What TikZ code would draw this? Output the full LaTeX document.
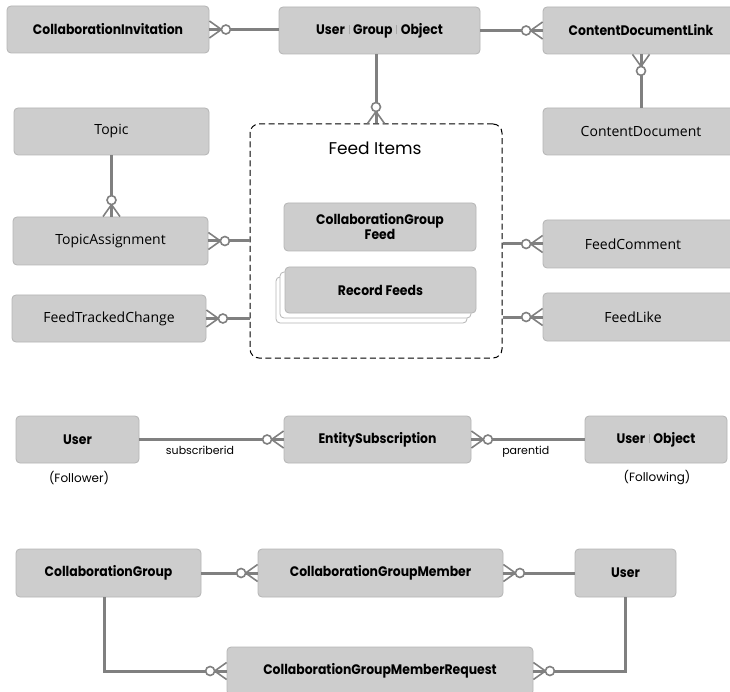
\documentclass[tikz,border=0pt]{standalone}
\usepackage{fontspec}
\setmainfont{Poppins}
\newfontfamily\geo[FakeStretch=0.9]{Poppins}
\newfontfamily\hum{Open Sans}
\usetikzlibrary{calc}
\definecolor{boxfill}{HTML}{CDCDCD}
\definecolor{boxline}{HTML}{B4B4B4}
\definecolor{conncol}{HTML}{808080}
\definecolor{sepcol}{HTML}{A8A8A8}
\newcommand\sepbar{\hspace{0.28em}\textcolor{sepcol}{\rule[-0.02em]{0.5pt}{0.72em}}\hspace{0.28em}}
\newcommand\zm[2]{\begin{scope}[shift={#1},rotate=#2]
  \draw[foot] (0,8.5) -- (12,0) -- (0,-8.5);
  \draw[foot,fill=white] (16.5,0) circle (4.5);
\end{scope}}
\tikzset{
  ent/.style={draw=boxline, line width=0.8pt, fill=boxfill, rounded corners=4pt,
    inner sep=0pt, align=center, font=\geo\bfseries\fontsize{13.8}{15}\selectfont},
  entr/.style={ent, font=\hum\fontsize{14}{16}\selectfont},
  shadowbox/.style={draw=boxline, line width=0.8pt, fill=white, rounded corners=4pt,
    inner sep=0pt, minimum width=191pt, minimum height=46pt},
  conn/.style={draw=conncol, line width=3pt},
  foot/.style={draw=conncol, line width=1.6pt},
  note/.style={inner sep=0pt, font=\fontsize{11}{13}\selectfont},
  feedframe/.style={draw=black, dash pattern=on 6pt off 3.5pt, line width=1pt, rounded corners=9pt, inner sep=0pt},
}
\begin{document}
\begin{tikzpicture}[x=1pt,y=-1pt]
\useasboundingbox (0,0) rectangle (730,692);
\clip (0,0) rectangle (730,692);

% top row
\node[ent, minimum width=202pt, minimum height=47pt] (ci) at (108,29.5) {CollaborationInvitation};
\node[ent, minimum width=201pt, minimum height=47pt] (ugo) at (379.5,30.5) {User\sepbar Group\sepbar Object};
\node[ent, minimum width=196pt, minimum height=47pt] (cdl) at (641,30.5) {ContentDocumentLink};
\node[entr, minimum width=196pt, minimum height=47pt] (cd) at (641,131.5) {ContentDocument};

% left column
\node[entr, minimum width=195pt, minimum height=47pt] (topic) at (111.5,131.5) {Topic};
\node[entr, minimum width=195pt, minimum height=48pt] (ta) at (110.5,241) {TopicAssignment};
\node[entr, minimum width=194pt, minimum height=47pt] (ftc) at (109,318.5) {FeedTrackedChange};

% feed items frame
\node[feedframe, minimum width=252pt, minimum height=234pt] (feed) at (376,241) {};
\node[inner sep=0pt, font=\fontsize{17}{19}\selectfont] (feedtitle) at (375,148) {Feed Items};
\node[ent, minimum width=192pt, minimum height=48pt] (cgf) at (380,227) {CollaborationGroup\\Feed};
\node[shadowbox] (rf2) at (371.5,300) {};
\node[shadowbox] (rf1) at (375.5,295) {};
\node[ent, minimum width=191pt, minimum height=46pt] (rf) at (380.5,290) {Record Feeds};

% right column
\node[entr, minimum width=196pt, minimum height=48pt] (fc) at (641,244) {FeedComment\hspace*{16pt}};
\node[entr, minimum width=196pt, minimum height=48pt] (fl) at (641,317) {FeedLike\hspace*{16pt}};

% subscription row
\node[ent, minimum width=123pt, minimum height=47pt] (uf) at (77.5,439.5) {User};
\node[ent, minimum width=187pt, minimum height=47pt] (es) at (377.5,439.5) {EntitySubscription};
\node[ent, minimum width=142pt, minimum height=47pt] (uo) at (656,439.5) {User\sepbar Object};
\node[note, font=\fontsize{12}{14}\selectfont] (follower) at (79,478) {(Follower)};
\node[note, font=\fontsize{12}{14}\selectfont] (following) at (657,478) {(Following)};

% group row
\node[ent, minimum width=185pt, minimum height=48pt] (cg) at (108.5,573) {CollaborationGroup};
\node[ent, minimum width=245pt, minimum height=48pt] (cgm) at (380.5,573) {CollaborationGroupMember};
\node[ent, minimum width=101pt, minimum height=48pt] (ub) at (625.5,573) {User};
\node[ent, minimum width=306pt, minimum height=48pt] (cgmr) at (380,671) {CollaborationGroupMemberRequest};

% connectors
\draw[conn] (ci.east) -- (ci.east -| ugo.west);
\zm{(ci.east)}{0}
\draw[conn] (ugo.east) -- (ugo.east -| cdl.west);
\zm{(ugo.east -| cdl.west)}{180}
\draw[conn] (feed.north |- ugo.south) -- (feed.north);
\zm{(feed.north)}{90}
\draw[conn] (cdl.south) -- (cd.north);
\zm{(cdl.south)}{-90}
\draw[conn] (topic.south) -- (topic.south |- ta.north);
\zm{(topic.south |- ta.north)}{90}
\draw[conn] (ta.east) -- (ta.east -| feed.west);
\zm{(ta.east)}{0}
\draw[conn] (ftc.east) -- (ftc.east -| feed.west);
\zm{(ftc.east)}{0}
\draw[conn] (fc.west -| feed.east) -- (fc.west);
\zm{(fc.west)}{180}
\draw[conn] (fl.west -| feed.east) -- (fl.west);
\zm{(fl.west)}{180}

\draw[conn] (uf.east) -- (es.west) node[note, pos=0.42, below=5pt] (subl) {subscriberid};
\zm{(es.west)}{180}
\draw[conn] (es.east) -- (uo.west) node[note, pos=0.48, below=5pt] (parl) {parentid};
\zm{(es.east)}{0}

\draw[conn] (cg.east) -- (cgm.west);
\zm{(cgm.west)}{180}
\draw[conn] (cgm.east) -- (ub.west);
\zm{(cgm.east)}{0}
\draw[conn] ([xshift=-4pt]cg.south) |- (cgmr.west);
\zm{(cgmr.west)}{180}
\draw[conn] (ub.south) |- (cgmr.east);
\zm{(cgmr.east)}{0}
\end{tikzpicture}
\end{document}
